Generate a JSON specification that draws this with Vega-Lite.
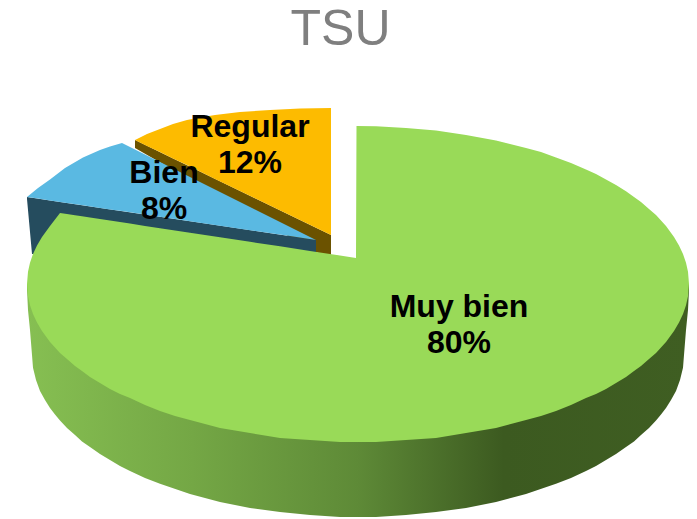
{
"$schema":"https://vega.github.io/schema/vega-lite/v6.json",
"width":697,"height":519,"padding":0,"autosize":{"type":"none"},"background":"white",
"title":{"text":"TSU","font":"Liberation Sans","fontSize":50,"fontWeight":"normal","color":"#7f7f7f","anchor":"middle","dx":-8,"dy":55,"offset":0},
"config":{"view":{"stroke":null}},
"datasets":{
"orange_side":[{"x":135,"y":140,"y2":148},{"x":316,"y":227.7,"y2":252},{"x":331,"y":235,"y2":258}],
"orange_top":[{"x":135,"y":140,"y2":140},{"x":147,"y":134,"y2":146},{"x":160,"y":129,"y2":152},{"x":173,"y":124,"y2":158.5},{"x":187,"y":120,"y2":165},{"x":200,"y":117.5,"y2":171.5},{"x":215,"y":115,"y2":179},{"x":240,"y":112,"y2":191},{"x":270,"y":110,"y2":205.5},{"x":300,"y":108.5,"y2":220},{"x":331,"y":108,"y2":235}],
"blue_side":[{"x":27,"y":197,"y2":199},{"x":30,"y":197.4,"y2":232},{"x":32,"y":197.7,"y2":254},{"x":60,"y":201.9,"y2":254},{"x":316,"y":240,"y2":260}],
"blue_top":[{"x":27,"y":197,"y2":197},{"x":38,"y":188,"y2":198.6},{"x":50,"y":179.5,"y2":200.4},{"x":65,"y":168,"y2":202.7},{"x":83,"y":157.5,"y2":205.3},{"x":100,"y":150,"y2":207.9},{"x":110,"y":146.5,"y2":209.4},{"x":122,"y":143,"y2":211.1},{"x":160,"y":162,"y2":216.8},{"x":200,"y":182,"y2":222.7},{"x":250,"y":207,"y2":230.2},{"x":290,"y":227,"y2":236.1},{"x":316,"y":240,"y2":240}],
"green_side":[{"x":27,"y":284,"y2":290},{"x":28,"y":284,"y2":310},{"x":30,"y":284,"y2":330},{"x":32,"y":284,"y2":355},{"x":33,"y":284,"y2":367.7},{"x":36,"y":284,"y2":380},{"x":40,"y":284,"y2":391},{"x":45,"y":284,"y2":400},{"x":50,"y":284,"y2":408},{"x":55,"y":284,"y2":414.6},{"x":60,"y":284,"y2":420.6},{"x":67,"y":284,"y2":428},{"x":75,"y":284,"y2":435},{"x":82,"y":284,"y2":441.5},{"x":90,"y":284,"y2":447},{"x":100,"y":284,"y2":454},{"x":110,"y":284,"y2":460},{"x":120,"y":284,"y2":466},{"x":130,"y":284,"y2":471},{"x":145,"y":284,"y2":478},{"x":160,"y":284,"y2":483.7},{"x":190,"y":284,"y2":494},{"x":220,"y":284,"y2":502},{"x":250,"y":284,"y2":508},{"x":280,"y":284,"y2":512},{"x":310,"y":284,"y2":515},{"x":340,"y":284,"y2":517},{"x":358,"y":284,"y2":517},{"x":376,"y":284,"y2":517},{"x":406,"y":284,"y2":515},{"x":436,"y":284,"y2":512},{"x":466,"y":284,"y2":508},{"x":496,"y":284,"y2":502},{"x":526,"y":284,"y2":494},{"x":556,"y":284,"y2":483.7},{"x":571,"y":284,"y2":478},{"x":586,"y":284,"y2":471},{"x":596,"y":284,"y2":466},{"x":606,"y":284,"y2":460},{"x":616,"y":284,"y2":454},{"x":626,"y":284,"y2":447},{"x":634,"y":284,"y2":441.5},{"x":641,"y":284,"y2":435},{"x":649,"y":284,"y2":428},{"x":656,"y":284,"y2":420.6},{"x":661,"y":284,"y2":414.6},{"x":666,"y":284,"y2":408},{"x":671,"y":284,"y2":400},{"x":676,"y":284,"y2":391},{"x":680,"y":284,"y2":380},{"x":683,"y":284,"y2":367.7},{"x":684,"y":284,"y2":355},{"x":686,"y":284,"y2":330},{"x":688,"y":284,"y2":310},{"x":689,"y":284,"y2":290}],
"green_top":[{"x":27,"y":284,"y2":284},{"x":28,"y":271.7,"y2":296.3},{"x":30,"y":262.8,"y2":305.2},{"x":33,"y":254,"y2":314},{"x":37,"y":245.5,"y2":322.5},{"x":42,"y":237,"y2":331},{"x":50,"y":226,"y2":342},{"x":60,"y":213,"y2":353},{"x":67,"y":214.1,"y2":359},{"x":75,"y":215.3,"y2":366},{"x":82,"y":216.3,"y2":371},{"x":90,"y":217.5,"y2":377},{"x":100,"y":219,"y2":383},{"x":110,"y":220.6,"y2":389},{"x":120,"y":222.1,"y2":394},{"x":130,"y":223.6,"y2":398},{"x":145,"y":225.9,"y2":405},{"x":160,"y":228.2,"y2":411},{"x":175,"y":230.4,"y2":416},{"x":190,"y":232.7,"y2":420},{"x":220,"y":237.2,"y2":428},{"x":250,"y":241.8,"y2":433},{"x":280,"y":246.3,"y2":438},{"x":310,"y":250.9,"y2":440},{"x":340,"y":255.4,"y2":442},{"x":356,"y":258,"y2":442},{"x":356.5,"y":126,"y2":442},{"x":376,"y":126.2,"y2":442},{"x":406,"y":128,"y2":440},{"x":436,"y":130.4,"y2":438},{"x":466,"y":135,"y2":433},{"x":496,"y":140.4,"y2":428},{"x":526,"y":148,"y2":420},{"x":541,"y":152,"y2":416},{"x":556,"y":157.4,"y2":411},{"x":571,"y":163,"y2":405},{"x":586,"y":169.5,"y2":398},{"x":596,"y":174,"y2":394},{"x":606,"y":179.4,"y2":389},{"x":616,"y":185,"y2":383},{"x":626,"y":191.3,"y2":377},{"x":634,"y":197,"y2":371},{"x":641,"y":202,"y2":366},{"x":649,"y":209,"y2":359},{"x":656,"y":215,"y2":353},{"x":666,"y":226,"y2":342},{"x":674,"y":237,"y2":331},{"x":679,"y":245.5,"y2":322.5},{"x":683,"y":254,"y2":314},{"x":686,"y":262.8,"y2":305.2},{"x":688,"y":271.7,"y2":296.3},{"x":689,"y":284,"y2":284}],
"labels":[{"label":"Muy bien\n80%","x":459,"y":307},{"label":"Bien\n8%","x":164,"y":173},{"label":"Regular\n12%","x":250,"y":127}]
},
"encoding":{
"x":{"field":"x","type":"quantitative","axis":null,"scale":{"domain":[0,697],"nice":false,"zero":false}},
"y":{"field":"y","type":"quantitative","axis":null,"scale":{"domain":[519,0],"nice":false,"zero":false}}
},
"layer":[
{"data":{"name":"orange_side"},"mark":{"type":"area","color":"#6b5200"},"encoding":{"y2":{"field":"y2"}}},
{"data":{"name":"orange_top"},"mark":{"type":"area","color":"#fdbb00"},"encoding":{"y2":{"field":"y2"}}},
{"data":{"name":"blue_side"},"mark":{"type":"area","color":"#254c5e"},"encoding":{"y2":{"field":"y2"}}},
{"data":{"name":"blue_top"},"mark":{"type":"area","color":"#5ab9e2"},"encoding":{"y2":{"field":"y2"}}},
{"data":{"name":"green_side"},"mark":{"type":"area","color":{"gradient":"linear","x1":0,"y1":0,"x2":1,"y2":0,"stops":[{"offset":0,"color":"#86bf52"},{"offset":0.25,"color":"#74a745"},{"offset":0.5,"color":"#5e8a37"},{"offset":0.72,"color":"#3c5a20"},{"offset":1,"color":"#3f5e22"}]}},"encoding":{"y2":{"field":"y2"}}},
{"data":{"name":"green_top"},"mark":{"type":"area","color":"#99da58"},"encoding":{"y2":{"field":"y2"}}},
{"data":{"name":"labels"},"mark":{"type":"text","font":"Liberation Sans","fontWeight":"bold","fontSize":32,"color":"#000000","lineBreak":"\n","lineHeight":36,"align":"center","baseline":"middle"},"encoding":{"text":{"field":"label"}}}
]
}
